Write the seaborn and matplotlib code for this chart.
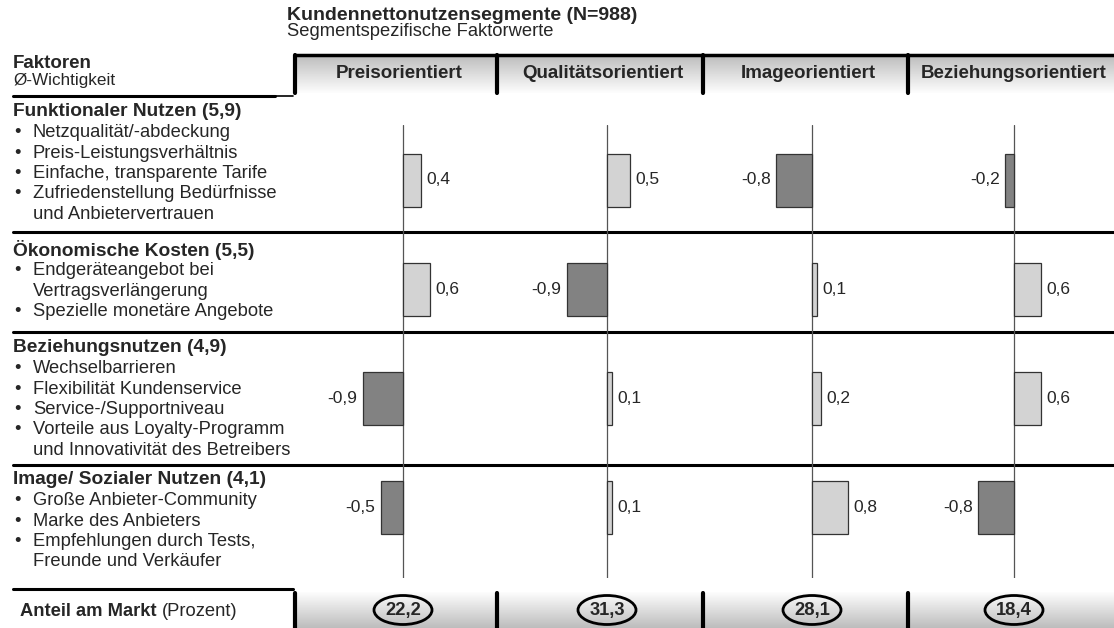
import numpy as np
import pandas as pd
import matplotlib.pyplot as plt
import seaborn as sns
from matplotlib.patches import Ellipse

# Daten
segmente = ["Preisorientiert", "Qualitätsorientiert", "Imageorientiert", "Beziehungsorientiert"]
faktoren = ["Funktionaler Nutzen", "Ökonomische Kosten", "Beziehungsnutzen", "Image/ Sozialer Nutzen"]
wichtigkeit = ["5,9", "5,5", "4,9", "4,1"]
items_funktional = ["Netzqualität/-abdeckung", "Preis-Leistungsverhältnis",
                    "Einfache, transparente Tarife", "Zufriedenstellung Bedürfnisse\nund Anbietervertrauen"]
items_kosten = ["Endgeräteangebot bei\nVertragsverlängerung", "Spezielle monetäre Angebote"]
items_beziehung = ["Wechselbarrieren", "Flexibilität Kundenservice", "Service-/Supportniveau",
                   "Vorteile aus Loyalty-Programm\nund Innovativität des Betreibers"]
items_image = ["Große Anbieter-Community", "Marke des Anbieters",
               "Empfehlungen durch Tests,\nFreunde und Verkäufer"]
werte_preis = [0.4, 0.6, -0.9, -0.5]
werte_qualitaet = [0.5, -0.9, 0.1, 0.1]
werte_image = [-0.8, 0.1, 0.2, 0.8]
werte_beziehung = [-0.2, 0.6, 0.6, -0.8]
marktanteil = [22.2, 31.3, 28.1, 18.4]

sns.set_style("white")
plt.rcParams["font.family"] = ["Liberation Sans", "DejaVu Sans"]

W, H = 1114, 628
fig = plt.figure(figsize=(W / 100, H / 100), dpi=100)

# Hintergrund-Achse in Pixelkoordinaten fuer Tabelle und Texte
bg = fig.add_axes([0, 0, 1, 1])
bg.set_xlim(0, W)
bg.set_ylim(H, 0)
bg.axis("off")

fs = 13.2      # normaler Text
fsb = 13.8     # fette Abschnittstitel
col_edges = [295, 497, 703, 908, W]
zero_px = [403, 607, 812, 1014]

# Titel
bg.text(287, 15, "Kundennettonutzensegmente (N=988)", fontsize=14, fontweight="bold", va="center")
bg.text(287, 32, "Segmentspezifische Faktorwerte", fontsize=13.2, va="center")
bg.text(13, 63, "Faktoren", fontsize=13.5, fontweight="bold", va="center")
bg.text(13, 81, "Ø-Wichtigkeit", fontsize=12.3, va="center")
bg.plot([13, 275], [96, 96], color="black", lw=2.2)
bg.plot([275, 293], [96, 96], color="black", lw=1.2)

# Kopfzeile mit Verlauf
grad_head = np.linspace(0.74, 0.99, 50).reshape(-1, 1)
grad_foot = np.linspace(0.99, 0.74, 50).reshape(-1, 1)
for i, seg in enumerate(segmente):
    x0, x1 = col_edges[i], col_edges[i + 1]
    bg.imshow(grad_head, extent=(x0, x1, 93, 55), cmap="gray", vmin=0, vmax=1,
              aspect="auto", origin="upper", zorder=0)
    bg.text((x0 + x1) / 2 + 3, 74, seg, fontsize=13.5, fontweight="bold", ha="center", va="center")
    bg.imshow(grad_foot, extent=(x0, x1, 628, 592), cmap="gray", vmin=0, vmax=1,
              aspect="auto", origin="upper", zorder=0)
bg.plot([295, W], [55, 55], color="black", lw=2.5)
for x in col_edges[:-1]:
    bg.plot([x, x], [55, 93], color="black", lw=3)
    bg.plot([x, x], [593, 628], color="black", lw=3)

# Abschnitte links
sektionen = [items_funktional, items_kosten, items_beziehung, items_image]
titel_y = [112, 250, 348, 480]
for f, w, items, ty in zip(faktoren, wichtigkeit, sektionen, titel_y):
    bg.text(13, ty, f"{f} ({w})", fontsize=fsb, fontweight="bold", va="center")
    y = ty + 20.5
    for it in items:
        bg.text(14, y, "•", fontsize=fs, va="center")
        for z in it.split("\n"):
            bg.text(33, y, z, fontsize=fs, va="center")
            y += 20.5

for y in [232, 332, 465]:
    bg.plot([13, W], [y, y], color="black", lw=2.2, zorder=3)
bg.plot([13, 293], [589, 589], color="black", lw=2.2)

# Fusszeile
bg.text(20, 612, "Anteil am Markt", fontsize=13.2, fontweight="bold", va="center")
bg.text(162, 612, "(Prozent)", fontsize=fs, va="center")
for zx, m in zip(zero_px, marktanteil):
    bg.add_patch(Ellipse((zx, 610), 58, 29, facecolor="none", edgecolor="black", lw=2))
    bg.text(zx, 611, f"{m:.1f}".replace(".", ","), fontsize=13.2, fontweight="bold",
            ha="center", va="center")

# Balken je Segment
scale = 45.0
top_px, bot_px = 125, 578
y0, step = 180, 109.3
alle_werte = [werte_preis, werte_qualitaet, werte_image, werte_beziehung]
for zx, werte in zip(zero_px, alle_werte):
    half = 2.2
    left = (zx - half * scale) / W
    ax = fig.add_axes([left, 1 - bot_px / H, 2 * half * scale / W, (bot_px - top_px) / H])
    df = pd.DataFrame({"faktor": faktoren, "wert": werte,
                       "richtung": ["pos" if v > 0 else "neg" for v in werte]})
    sns.barplot(data=df, x="wert", y="faktor", hue="richtung", order=faktoren,
                hue_order=["pos", "neg"], palette={"pos": "#d3d3d3", "neg": "#828282"},
                dodge=False, orient="h", width=53 / step, edgecolor="#333333",
                linewidth=0.9, legend=False, ax=ax)
    ax.axvline(0, color="#555555", lw=0.9, zorder=0)
    for i, v in enumerate(werte):
        off = 0.12 if v > 0 else -0.12
        ax.text(v + off, i, f"{v:.1f}".replace(".", ","), fontsize=12.5,
                ha="left" if v > 0 else "right", va="center")
    ax.set_xlim(-half, half)
    ax.set_ylim(3 + (bot_px - y0 - 3 * step) / step, -(y0 - top_px) / step)
    ax.axis("off")
    ax.patch.set_alpha(0)

fig.savefig("out.png", dpi=100)
